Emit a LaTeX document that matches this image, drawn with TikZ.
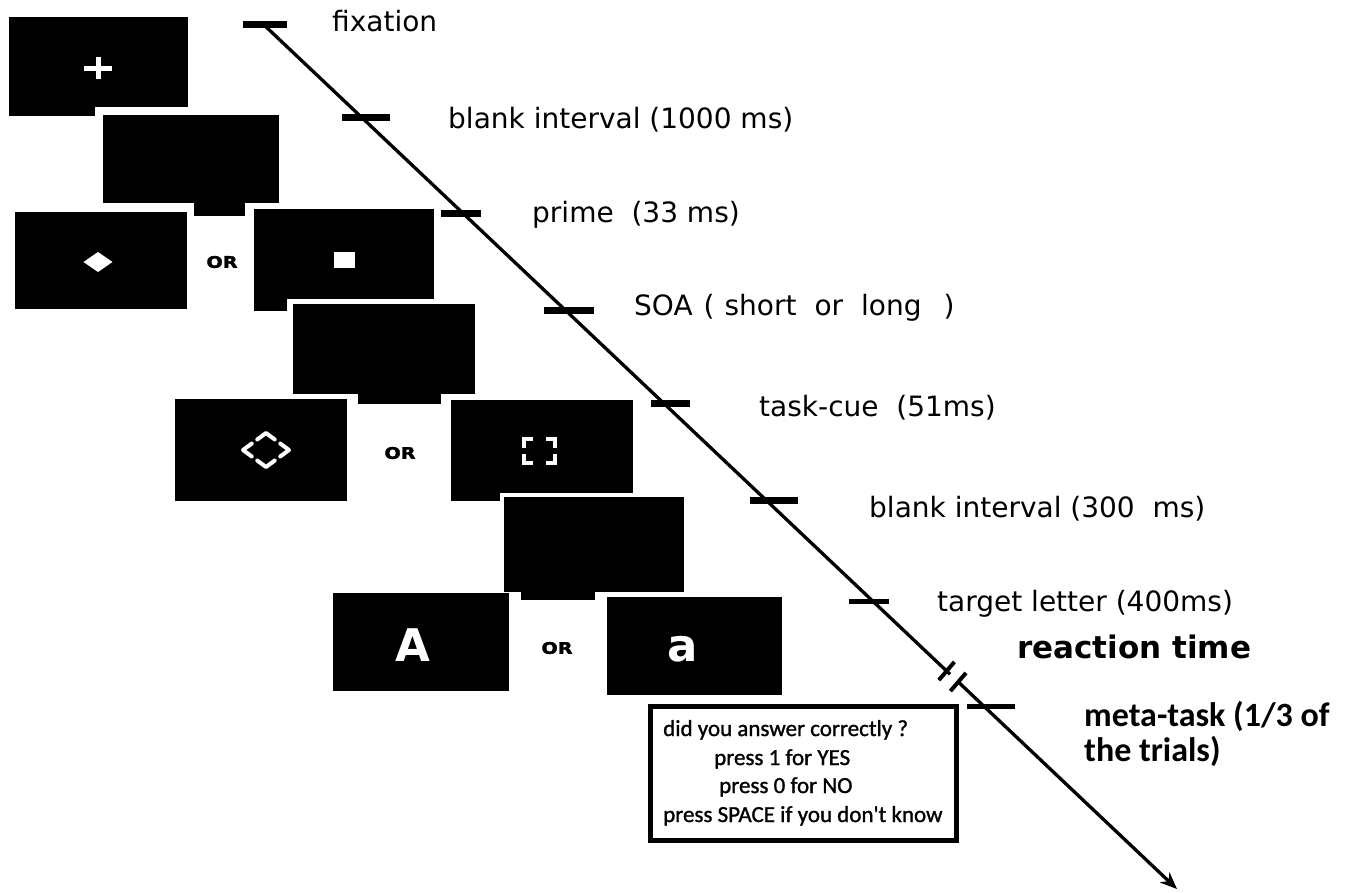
\documentclass[tikz,border=0pt]{standalone}
\usepackage{fontspec}
\setmainfont{DejaVu Sans}
\newfontfamily\carl{Carlito}
\newfontfamily\carlh[FakeBold=1.2]{Carlito}
\newfontfamily\orfont[FakeBold=2]{DejaVu Sans Bold}
\usetikzlibrary{arrows.meta,calc}
\begin{document}
\begin{tikzpicture}[x=1pt,y=-1pt,
  wstroke/.style={draw=white, line width=4pt, line cap=round, line join=round},
  tickmark/.style={line width=7pt},
  thintick/.style={line width=5pt},
  lab/.style={anchor=base west, inner sep=0pt, font=\fontsize{28}{32}\selectfont},
  orlab/.style={inner sep=0pt, font=\orfont\fontsize{16}{16}\selectfont, xscale=1.2},
  letterlab/.style={anchor=base, inner sep=0pt, text=white, font=\bfseries\fontsize{45}{45}\selectfont},
  boxtxt/.style={anchor=base west, inner sep=0pt, font=\carlh\fontsize{23}{28}\selectfont},
  timeline/.style={line width=3.3pt},
  breakmark/.style={line width=4pt}]
\useasboundingbox (0,0) rectangle (1352,892);
\fill[white] (0,0) rectangle (1352,892);

% ---- screens ----
\fill (9,17) rectangle (188,107);
\fill (9,100) rectangle (95,116);
\fill (103,115) rectangle (279,203);
\fill (194,200) rectangle (245,216);
\fill (15,212) rectangle (187,309);
\fill (254,209) rectangle (434,299);
\fill (254,290) rectangle (287,311);
\fill (293,304) rectangle (475,394);
\fill (358,390) rectangle (441,404);
\fill (175,399) rectangle (347,501);
\fill (451,400) rectangle (633,493);
\fill (451,488) rectangle (500,501);
\fill (504,497) rectangle (684,592);
\fill (521,588) rectangle (595,600);
\fill (333,593) rectangle (509,691);
\fill (607,597) rectangle (782,695);

% ---- stimuli ----
\draw[wstroke, line width=5pt, line cap=butt] (84,68) -- (112,68) (98,57) -- (98,79);
\fill[white] (83.5,262) -- (98,252) -- (112.5,262) -- (98,272) -- cycle;
\fill[white] (334,252) rectangle (355,268);
\coordinate (dl) at (243,450);
\coordinate (dt) at (266,433);
\coordinate (dr) at (289,450);
\coordinate (db) at (266,467);
\draw[wstroke] ($(dl)!0.38!(dt)$) -- (dl) -- ($(dl)!0.38!(db)$);
\draw[wstroke] ($(dt)!0.38!(dl)$) -- (dt) -- ($(dt)!0.38!(dr)$);
\draw[wstroke] ($(dr)!0.38!(dt)$) -- (dr) -- ($(dr)!0.38!(db)$);
\draw[wstroke] ($(db)!0.38!(dl)$) -- (db) -- ($(db)!0.38!(dr)$);
\draw[wstroke, line cap=butt, line join=miter] (524,448) -- (524,439) -- (533,439);
\draw[wstroke, line cap=butt, line join=miter] (546,439) -- (555,439) -- (555,448);
\draw[wstroke, line cap=butt, line join=miter] (524,454) -- (524,463) -- (533,463);
\draw[wstroke, line cap=butt, line join=miter] (546,463) -- (555,463) -- (555,454);
\node[orlab] (or1) at (222,262) {OR};
\node[orlab] (or2) at (400,453) {OR};
\node[orlab] (or3) at (557,648) {OR};
\node[letterlab] (bigA) at (413,661) {A};
\node[letterlab] (smalla) at (683,661) {a};

% ---- timeline ----
\coordinate (tstart) at (263,24);
\coordinate (tend) at (1177,889);
\coordinate (b1) at (950.1,674.3);
\coordinate (b2) at (958.1,681.8);
\coordinate (m1) at (946.6,671);
\coordinate (m2) at (958.2,682);
\draw[timeline] (tstart) -- (b1);
\draw[timeline, -{Stealth[length=17pt,width=14pt]}] (b2) -- (tend);
\draw[breakmark] ($(m1)+(-7.8,9.1)$) -- ($(m1)+(7.8,-9.1)$);
\draw[breakmark] ($(m2)+(-7.8,9.1)$) -- ($(m2)+(7.8,-9.1)$);

\coordinate (k1) at (265,24);
\coordinate (k2) at (366,117);
\coordinate (k3) at (461,213);
\coordinate (k4) at (569,310);
\coordinate (k5) at (670.5,403);
\coordinate (k6) at (774,500);
\coordinate (k7) at (869,601);
\coordinate (k8) at (991,706);
\draw[tickmark] ([xshift=-22pt]k1) -- ([xshift=22pt]k1);
\draw[tickmark] ([xshift=-24pt]k2) -- ([xshift=24pt]k2);
\draw[tickmark] ([xshift=-20pt]k3) -- ([xshift=20pt]k3);
\draw[tickmark] ([xshift=-25pt]k4) -- ([xshift=25pt]k4);
\draw[tickmark] ([xshift=-19.5pt]k5) -- ([xshift=19.5pt]k5);
\draw[tickmark] ([xshift=-24pt]k6) -- ([xshift=24pt]k6);
\draw[thintick] ([xshift=-20pt]k7) -- ([xshift=20pt]k7);
\draw[thintick] ([xshift=-24pt]k8) -- ([xshift=24pt]k8);

% ---- labels ----
\node[lab] (l1) at (332,31) {fixation};
\node[lab] (l2) at (448,128) {blank interval (1000 ms)};
\node[lab] (l3) at (532,222) {prime\ \ (33 ms)};
\node[lab] (l4) at (634,315) {SOA\hspace{11pt}(\hspace{10pt}short\hspace{18pt}or\hspace{18pt}long\hspace{22pt})};
\node[lab] (l5) at (759,416) {task-cue\ \ (51ms)};
\node[lab] (l6) at (869,517) {blank interval (300\ \ ms)};
\node[lab] (l7) at (937,611) {target letter (400ms)};
\node[lab, font=\bfseries\fontsize{31}{34}\selectfont] (l8) at (1017,658) {reaction time};
\node[anchor=north west, inner sep=0pt, align=left, font=\carl\bfseries\fontsize{34}{35}\selectfont] (l9) at (1084,701) {meta-task (1/3 of\\the trials)};

% ---- meta-task box ----
\node[draw, line width=5pt, minimum width=306pt, minimum height=134pt, inner sep=0pt] (box) at (803.5,773.5) {};
\node[boxtxt] (q1) at (663,736) {did you answer correctly ?};
\node[boxtxt] (q2) at (714,765) {press 1 for YES};
\node[boxtxt] (q3) at (719,793) {press 0 for NO};
\node[boxtxt] (q4) at (663,822) {press SPACE if you don't know};
\end{tikzpicture}
\end{document}
